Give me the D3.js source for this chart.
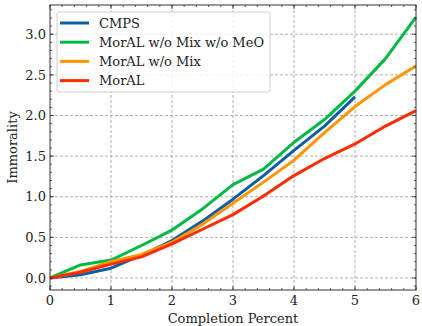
<!DOCTYPE html>
<html><head><meta charset="utf-8">
<script src="https://cdn.jsdelivr.net/npm/d3@7/dist/d3.min.js"></script>
<style>body{margin:0;background:#fff}svg{display:block}</style>
</head><body><svg id="c" width="422" height="326"></svg>
<script>
const xs = [0,0.5,1,1.5,2,2.5,3,3.5,4,4.5,5,5.5,6];
const seriesNames = ["CMPS","MorAL w/o Mix w/o MeO","MorAL w/o Mix","MorAL"];
const seriesColors = ["#0C5DA5","#00B945","#FF9500","#FF2C00"];
const cmps = [0,0.04,0.12,0.28,0.46,0.70,0.97,1.26,1.57,1.87,2.23];
const noMixNoMeo = [0,0.16,0.22,0.40,0.59,0.85,1.15,1.34,1.67,1.95,2.30,2.70,3.21];
const noMix = [0,0.08,0.20,0.29,0.44,0.66,0.92,1.18,1.45,1.79,2.11,2.38,2.61];
const moral = [0,0.07,0.17,0.26,0.42,0.60,0.78,1.01,1.26,1.47,1.65,1.87,2.06];
const xTicks = [0,1,2,3,4,5,6];
const yTicks = [0,0.5,1,1.5,2,2.5,3];
const xLabel = "Completion Percent", yLabel = "Immorality";
const FONT = "DejaVu Serif";
const FS = 13;

const svg = d3.select("#c");
const L=50,R=416,T=5,B=290;
const x = d3.scaleLinear().domain([0,6]).range([L,R]);
const y = d3.scaleLinear().domain([-0.148,3.36]).range([B,T]);
const g = svg.append("g");
g.selectAll(".gx").data(xTicks.slice(1,-1)).join("line").attr("x1",d=>x(d)).attr("x2",d=>x(d)).attr("y1",T).attr("y2",B)
 .attr("stroke","#999").attr("stroke-width",0.8).attr("stroke-dasharray","3,2");
g.selectAll(".gy").data(yTicks).join("line").attr("y1",d=>y(d)).attr("y2",d=>y(d)).attr("x1",L).attr("x2",R)
 .attr("stroke","#999").attr("stroke-width",0.8).attr("stroke-dasharray","3,2");
const allData = [cmps,noMixNoMeo,noMix,moral];
const line = d3.line().x((d,i)=>x(xs[i])).y(d=>y(d));
allData.forEach((s,k)=>{
  g.append("path").datum(s).attr("d",line).attr("fill","none").attr("stroke",seriesColors[k])
   .attr("stroke-width",3).attr("stroke-linejoin","round");
});
const tk = svg.append("g").attr("stroke","#333").attr("stroke-width",0.8);
const minorX = d3.range(0,6.001,0.2), minorY = d3.range(-0.1,3.35,0.1);
minorX.forEach(v=>{tk.append("line").attr("x1",x(v)).attr("x2",x(v)).attr("y1",B).attr("y2",B-2);
  tk.append("line").attr("x1",x(v)).attr("x2",x(v)).attr("y1",T).attr("y2",T+2);});
xTicks.forEach(v=>{tk.append("line").attr("x1",x(v)).attr("x2",x(v)).attr("y1",B).attr("y2",B-4);
  tk.append("line").attr("x1",x(v)).attr("x2",x(v)).attr("y1",T).attr("y2",T+4);});
minorY.forEach(v=>{tk.append("line").attr("y1",y(v)).attr("y2",y(v)).attr("x1",L).attr("x2",L+2);
  tk.append("line").attr("y1",y(v)).attr("y2",y(v)).attr("x1",R).attr("x2",R-2);});
yTicks.forEach(v=>{tk.append("line").attr("y1",y(v)).attr("y2",y(v)).attr("x1",L).attr("x2",L+4);
  tk.append("line").attr("y1",y(v)).attr("y2",y(v)).attr("x1",R).attr("x2",R-4);});
svg.append("rect").attr("x",L).attr("y",T).attr("width",R-L).attr("height",B-T).attr("fill","none").attr("stroke","#333").attr("stroke-width",1);
svg.selectAll(".xl").data(xTicks).join("text").attr("x",d=>x(d)).attr("y",305).attr("text-anchor","middle")
 .attr("font-family",FONT).attr("font-size",FS).attr("fill","#222").text(d=>d);
svg.selectAll(".yl").data(yTicks).join("text").attr("x",L-4).attr("y",d=>y(d)+4.7).attr("text-anchor","end")
 .attr("font-family",FONT).attr("font-size",FS).attr("fill","#222").text(d=>d.toFixed(1));
svg.append("text").attr("x",(L+R)/2).attr("y",323).attr("text-anchor","middle").attr("font-family",FONT).attr("font-size",FS).attr("fill","#222").text(xLabel);
svg.append("text").attr("transform",`translate(17,${(T+B)/2}) rotate(-90)`).attr("text-anchor","middle").attr("font-family",FONT).attr("font-size",FS).attr("fill","#222").text(yLabel);
const lg = svg.append("g");
lg.append("rect").attr("x",57).attr("y",12).attr("width",213).attr("height",80).attr("rx",2)
 .attr("fill","#fff").attr("fill-opacity",0.85).attr("stroke","#d0d0d0").attr("stroke-width",1);
seriesNames.forEach((n,i)=>{
  const yy = 23 + i*19.2;
  lg.append("line").attr("x1",60).attr("x2",89).attr("y1",yy).attr("y2",yy).attr("stroke",seriesColors[i]).attr("stroke-width",3);
  lg.append("text").attr("x",99).attr("y",yy+4.8).attr("font-family",FONT).attr("font-size",FS).attr("fill","#222").text(n);
});
</script></body></html>
